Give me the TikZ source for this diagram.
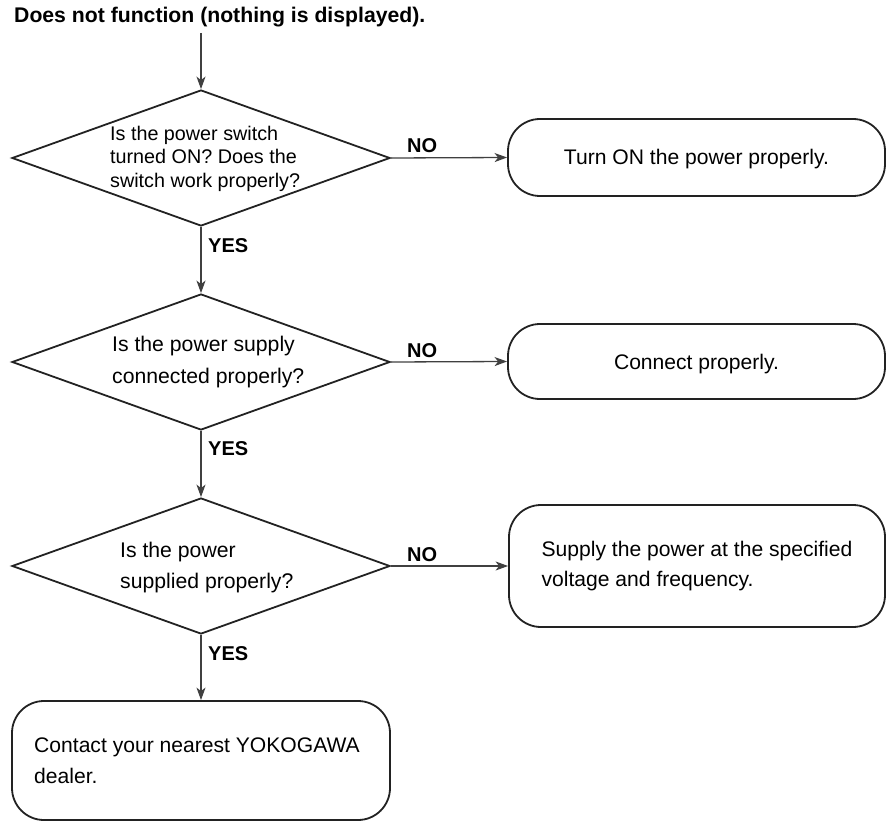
\documentclass[tikz,border=0pt]{standalone}
\usepackage{fontspec}
\setmainfont{Liberation Sans}
\usetikzlibrary{shapes.geometric,arrows.meta}
\definecolor{lineclr}{HTML}{222222}
\definecolor{arrclr}{HTML}{404040}
\tikzset{
  decision/.style={diamond, draw=lineclr, line width=1.8pt, minimum width=378pt, minimum height=136pt, inner sep=0pt},
  endbox/.style={draw=lineclr, line width=1.8pt, rounded corners=32pt, inner sep=0pt, align=left,
     font=\fontsize{21.1}{31}\selectfont},
  qtext/.style={anchor=west, inner sep=0pt, align=left},
  answer/.style={anchor=base west, inner sep=0pt, font=\fontsize{20}{24}\selectfont\bfseries},
  conn/.style={draw=arrclr, line width=1.3pt, -{Stealth[length=12.5pt,width=9pt,inset=3.5pt]}}
}
\begin{document}
\begin{tikzpicture}[x=1pt,y=-1pt]
\useasboundingbox (0,0) rectangle (886,821);

% title
\node[anchor=base west, inner sep=0pt, font=\fontsize{21.2}{25}\selectfont\bfseries] (title) at (14,23) {Does not function (nothing is displayed).};
\coordinate (start) at (201,33);

% decisions
\node[decision] (d1) at (201,158) {};
\node[decision] (d2) at (201,362) {};
\node[decision] (d3) at (201,566) {};

\node[qtext, font=\fontsize{19.75}{23.5}\selectfont] (t1) at (110,158.5) {Is the power switch\\turned ON? Does the\\switch work properly?};
\node[qtext, font=\fontsize{21.2}{32}\selectfont] (t2) at (112,362) {Is the power supply\\connected properly?};
\node[qtext, font=\fontsize{21.2}{31.3}\selectfont] (t3) at (120,567.3) {Is the power\\supplied properly?};

% result boxes
\node[endbox, minimum width=377pt, minimum height=77pt, text height=15pt, text depth=0pt] (b1) at (696.5,157.5) {Turn ON the power properly.};
\node[endbox, minimum width=377pt, minimum height=75pt, text height=15pt, text depth=0pt] (b2) at (696.5,361.5) {Connect properly.};
\node[endbox, minimum width=376pt, minimum height=122pt, font=\fontsize{21.1}{30}\selectfont] (b3) at (697,566) {Supply the power at the specified\\voltage and frequency.};
\node[endbox, minimum width=378pt, minimum height=119pt] (b4) at (201,760.5) {\hspace*{-8pt}Contact your nearest YOKOGAWA\\\hspace*{-8pt}dealer.};

% connectors
\draw[conn] (start) -- (d1.north);
\draw[conn] (d1.south) -- (d2.north);
\draw[conn] (d2.south) -- (d3.north);
\draw[conn] (d3.south) -- (b4.north);
\draw[conn] (d1.east) -- (b1.west);
\draw[conn] (d2.east) -- (b2.west);
\draw[conn] (d3.east) -- (b3.west);

% labels
\node[answer] (no1) at (407,153) {NO};
\node[answer] (no2) at (407,357) {NO};
\node[answer] (no3) at (407,561) {NO};
\node[answer] (yes1) at (208,252) {YES};
\node[answer] (yes2) at (208,455) {YES};
\node[answer] (yes3) at (208,660) {YES};
\end{tikzpicture}
\end{document}
